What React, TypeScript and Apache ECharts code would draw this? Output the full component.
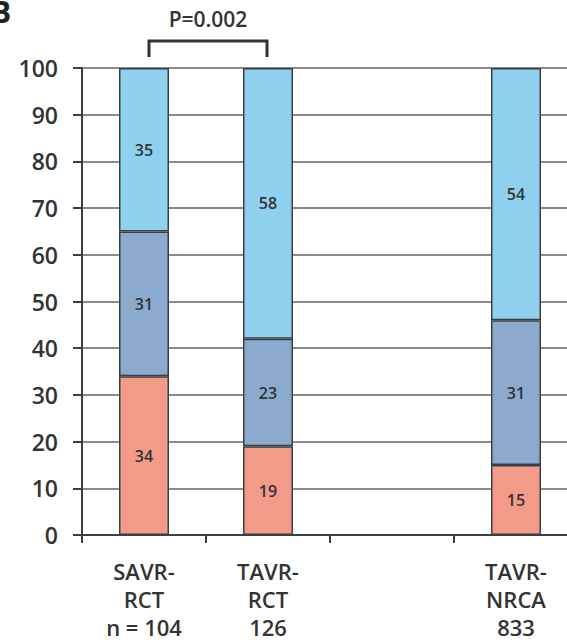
import React, { useEffect, useRef } from "react";
import * as echarts from "echarts";

const groupNames = ["SAVR-\nRCT", "TAVR-\nRCT", "", "TAVR-\nNRCA"];
const groupN = ["n = 104", "126", "", "833"];
const bottomValues: (number | null)[] = [34, 19, null, 15];
const middleValues: (number | null)[] = [31, 23, null, 31];
const topValues: (number | null)[] = [35, 58, null, 54];
const yTicks = [0, 10, 20, 30, 40, 50, 60, 70, 80, 90, 100];
const pLabel = "P=0.002";
const panelLetter = "B";

const FONT = "'Open Sans', 'Noto Sans', sans-serif";
const TEXT = "#333333";
const BORDER = "#3b3e44";

export default function App() {
  const ref = useRef<HTMLDivElement>(null);
  useEffect(() => {
    if (!ref.current) return;
    const chart = echarts.init(ref.current, undefined, { renderer: "svg" });
    const categories = groupNames.map((g, i) => (g ? g + "\n" + groupN[i] : ""));
    const mkSeries = (name: string, data: (number | null)[], color: string) => ({
      name,
      type: "bar",
      stack: "total",
      barWidth: 50,
      data: data.map((v) => (v === null ? "-" : v)),
      itemStyle: { color, borderColor: BORDER, borderWidth: 1.5 },
      label: {
        show: true,
        position: "inside",
        color: TEXT,
        fontFamily: FONT,
        fontSize: 16,
        fontWeight: 600,
      },
    });
    chart.setOption({
      animation: false,
      grid: {
        left: 82,
        top: 68,
        width: 496,
        height: 467,
        containLabel: false,
        outerBoundsMode: "none",
      },
      xAxis: {
        type: "category",
        data: categories,
        boundaryGap: true,
        axisLine: { show: true, lineStyle: { color: BORDER, width: 2 } },
        axisTick: { show: true, length: 8, alignWithLabel: false, lineStyle: { color: BORDER, width: 2 } },
        axisLabel: {
          color: TEXT,
          fontFamily: FONT,
          fontSize: 22,
          fontWeight: 600,
          lineHeight: 28,
          margin: 22,
          interval: 0,
        },
      },
      yAxis: {
        type: "value",
        min: yTicks[0],
        max: yTicks[yTicks.length - 1],
        interval: 10,
        axisLine: { show: true, lineStyle: { color: BORDER, width: 2 } },
        axisTick: { show: true, length: 9, lineStyle: { color: BORDER, width: 2 } },
        axisLabel: {
          color: TEXT,
          fontFamily: FONT,
          fontSize: 23,
          fontWeight: 600,
          margin: 24,
        },
        splitLine: { show: true, lineStyle: { color: "#8a8a8a", width: 2 } },
      },
      series: [
        mkSeries("bottom", bottomValues, "#F29B88"),
        mkSeries("middle", middleValues, "#8BAACE"),
        mkSeries("top", topValues, "#8FD0EE"),
      ],
    });
    const x1 = chart.convertToPixel({ xAxisIndex: 0 }, categories[0]) as number;
    const x2 = chart.convertToPixel({ xAxisIndex: 0 }, categories[1]) as number;
    const yTop = chart.convertToPixel({ yAxisIndex: 0 }, 100) as number;
    const bx1 = x1 + 5;
    const bx2 = x2 - 1;
    const byTop = yTop - 27;
    const byBot = yTop - 11;
    chart.setOption({
      graphic: [
        {
          type: "polyline",
          shape: { points: [[bx1, byBot], [bx1, byTop], [bx2, byTop], [bx2, byBot]] },
          style: { stroke: TEXT, lineWidth: 3, fill: "none" },
        },
        {
          type: "text",
          x: (bx1 + bx2) / 2,
          y: 19,
          style: {
            text: pLabel,
            fontFamily: FONT,
            fontSize: 21,
            fontWeight: 600,
            fill: TEXT,
            align: "center",
            verticalAlign: "middle",
          },
        },
        {
          type: "text",
          x: -9,
          y: 11,
          style: {
            text: panelLetter,
            fontFamily: FONT,
            fontSize: 30,
            fontWeight: "bold",
            fill: "#222",
            align: "left",
            verticalAlign: "middle",
          },
        },
      ],
    });
    return () => chart.dispose();
  }, []);
  return (
    <div
      ref={ref}
      style={{ position: "fixed", left: 0, top: 0, width: 567, height: 642, background: "#fff" }}
    />
  );
}
